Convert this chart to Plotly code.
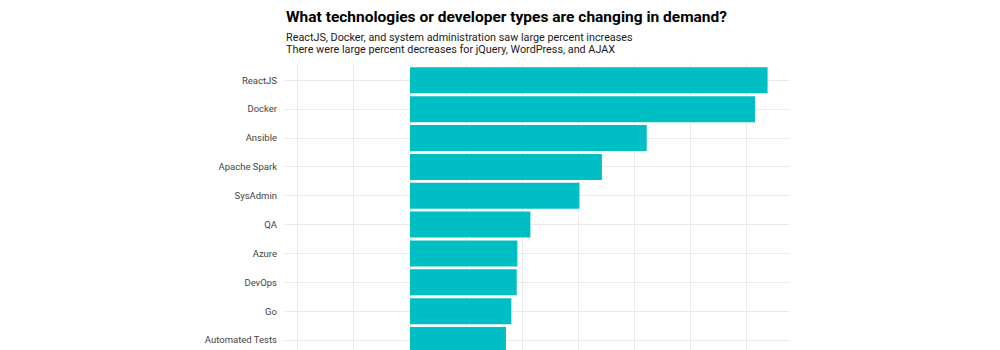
import plotly.graph_objects as go

categories = ["ReactJS", "Docker", "Ansible", "Apache Spark", "SysAdmin",
              "QA", "Azure", "DevOps", "Go", "Automated Tests"]
pct_change = [159.5, 153.9, 105.6, 85.6, 75.6, 53.7, 47.9, 47.6, 45.2, 42.8]

title_text = "What technologies or developer types are changing in demand?"
subtitle_lines = ["ReactJS, Docker, and system administration saw large percent increases",
                  "There were large percent decreases for jQuery, WordPress, and AJAX"]

FONT = "Roboto"
H = 350
T = 63
PH = H - T  # plot height in px (b=0)


def py(ypix):
    return (H - ypix) / PH


fig = go.Figure(go.Bar(
    x=pct_change, y=categories, orientation="h",
    marker=dict(color="#00BFC4", line=dict(width=0)),
    width=0.9,
))

annotations = [
    dict(text="<b>" + title_text + "</b>", xref="paper", yref="paper",
         x=0, y=py(17), xanchor="left", yanchor="middle",
         showarrow=False, font=dict(size=15.5, color="#000000", family=FONT)),
]
for i, line in enumerate(subtitle_lines):
    annotations.append(dict(text=line, xref="paper", yref="paper",
                            x=0, y=py(37.7 + 11.8 * i), xanchor="left", yanchor="middle",
                            showarrow=False, font=dict(size=10.8, color="#1a1a1a", family=FONT)))

fig.update_layout(
    width=1000, height=H,
    margin=dict(l=284, r=210, t=T, b=0),
    paper_bgcolor="white", plot_bgcolor="white",
    showlegend=False,
    font=dict(family=FONT, color="#333333"),
    xaxis=dict(range=[-56.2, 169.5], dtick=25, tick0=0, showgrid=True,
               gridcolor="#ebebeb", gridwidth=1, zeroline=False,
               showticklabels=False, ticks=""),
    yaxis=dict(type="category", categoryorder="array", categoryarray=categories,
               range=[9.345, -0.6], showgrid=True, gridcolor="#ebebeb", gridwidth=1,
               ticks="", tickfont=dict(size=9.5, color="#444444"),
               ticklabelstandoff=6, zeroline=False),
    annotations=annotations,
)

fig.write_html("out.html")
